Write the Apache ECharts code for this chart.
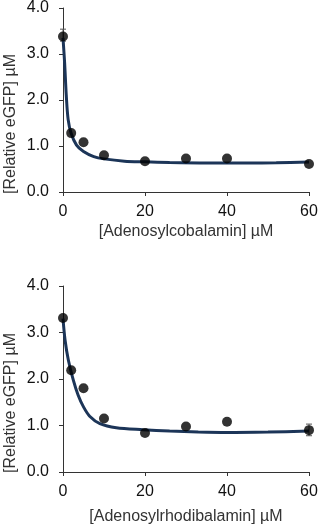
<!DOCTYPE html>
<html>
<head>
<meta charset="utf-8">
<script src="https://cdn.jsdelivr.net/npm/echarts@6/dist/echarts.min.js"></script>
<style>
  html, body { margin: 0; padding: 0; background: #fff; }
  #chart { width: 320px; height: 525px; }
</style>
</head>
<body>
<div id="chart"></div>
<script>
var conc = [0, 2, 5, 10, 20, 30, 40, 60]

var cobalaminPts = [3.38, 1.28, 1.08, 0.8, 0.67, 0.73, 0.73, 0.61]
var rhodibalaminPts = [3.31, 2.19, 1.8, 1.15, 0.84, 0.98, 1.08, 0.9]

// fitted curves
var cobalaminFitX = [0, 0.4, 0.8, 1.25, 2, 3.3, 5, 7.5, 10, 15, 20, 26, 35, 45, 52, 60]
var cobalaminFitY = [3.35, 2.8, 2.1, 1.58, 1.27, 1.02, 0.88, 0.77, 0.72, 0.67, 0.655, 0.64, 0.63, 0.63, 0.635, 0.65]
var rhodibalaminFitX = [0, 0.5, 1.3, 2.5, 3.7, 5, 6.5, 9, 13, 19.5, 26, 33, 40, 50, 60]
var rhodibalaminFitY = [3.3, 2.84, 2.41, 1.98, 1.65, 1.4, 1.2, 1.04, 0.95, 0.91, 0.88, 0.86, 0.85, 0.86, 0.88]

// error bars [x, low, high]
var cobalaminErr = [[0, 3.28, 3.54]]
var rhodibalaminErr = [[60, 0.78, 1.03]]

var xTicks = [0, 20, 40, 60]
var yTicks = [0.0, 1.0, 2.0, 3.0, 4.0]

function pairs(xs, ys) {
    return xs.map(function (x, i) { return [x, ys[i]] })
}

var fontFam = "Liberation Sans, Arial, sans-serif"
var axisCol = "#333"

function makeX(idx, name, gap) {
    return {
        type: "value",
        gridIndex: idx,
        min: xTicks[0],
        max: xTicks[xTicks.length - 1],
        interval: 20,
        name: name,
        nameLocation: "middle",
        nameGap: gap,
        nameTextStyle: { fontFamily: fontFam, fontSize: 16, color: "#333" },
        axisLine: { lineStyle: { color: axisCol, width: 1 } },
        axisTick: { show: true, length: 4, lineStyle: { color: axisCol } },
        axisLabel: { fontFamily: fontFam, fontSize: 16, color: "#111", margin: 12 },
        splitLine: { show: false }
    }
}

function makeY(idx) {
    return {
        type: "value",
        gridIndex: idx,
        min: yTicks[0],
        max: yTicks[yTicks.length - 1],
        interval: 1,
        name: "[Relative eGFP] µM",
        nameLocation: "middle",
        nameRotate: 90,
        nameGap: 44,
        nameMoveOverlap: false,
        nameTextStyle: { fontFamily: fontFam, fontSize: 16, color: "#333", padding: [0, 48, 0, 0] },
        axisLine: { show: true, lineStyle: { color: axisCol, width: 1 } },
        axisTick: { show: true, length: 4, lineStyle: { color: axisCol } },
        axisLabel: {
            fontFamily: fontFam, fontSize: 16, color: "#111", margin: 14,
            formatter: function (v) { return v.toFixed(1) }
        },
        splitLine: { show: false }
    }
}

function errSeries(idx, data) {
    return {
        type: "custom",
        xAxisIndex: idx,
        yAxisIndex: idx,
        z: 3,
        data: data,
        renderItem: function (params, api) {
            var lo = api.coord([api.value(0), api.value(1)])
            var hi = api.coord([api.value(0), api.value(2)])
            var s = { stroke: "#555", lineWidth: 1 }
            return {
                type: "group",
                children: [
                    { type: "line", shape: { x1: lo[0], y1: lo[1], x2: hi[0], y2: hi[1] }, style: s },
                    { type: "line", shape: { x1: lo[0] - 3, y1: lo[1], x2: lo[0] + 3, y2: lo[1] }, style: s },
                    { type: "line", shape: { x1: hi[0] - 3, y1: hi[1], x2: hi[0] + 3, y2: hi[1] }, style: s }
                ]
            }
        }
    }
}

function fitSeries(idx, data) {
    return {
        type: "line",
        xAxisIndex: idx,
        yAxisIndex: idx,
        data: data,
        smooth: 0.3,
        showSymbol: false,
        z: 4,
        lineStyle: { color: "#1c3558", width: 3 }
    }
}

function dotSeries(idx, data) {
    return {
        type: "scatter",
        xAxisIndex: idx,
        yAxisIndex: idx,
        data: data,
        symbolSize: 10,
        z: 5,
        itemStyle: { color: "#000" }
    }
}

var chart = echarts.init(document.getElementById("chart"))
var option = {
    animation: false,
    backgroundColor: "#fff",
    grid: [
        { left: 63, right: 11, top: 8, height: 184, outerBoundsMode: "none", containLabel: false },
        { left: 63, right: 11, top: 286, height: 186, outerBoundsMode: "none", containLabel: false }
    ],
    xAxis: [
        makeX(0, "[Adenosylcobalamin] µM", 32),
        makeX(1, "[Adenosylrhodibalamin] µM", 37)
    ],
    yAxis: [makeY(0), makeY(1)],
    series: [
        errSeries(0, cobalaminErr),
        fitSeries(0, pairs(cobalaminFitX, cobalaminFitY)),
        dotSeries(0, pairs(conc, cobalaminPts)),
        errSeries(1, rhodibalaminErr),
        fitSeries(1, pairs(rhodibalaminFitX, rhodibalaminFitY)),
        dotSeries(1, pairs(conc, rhodibalaminPts))
    ]
}
chart.setOption(option)
</script>
</body>
</html>
